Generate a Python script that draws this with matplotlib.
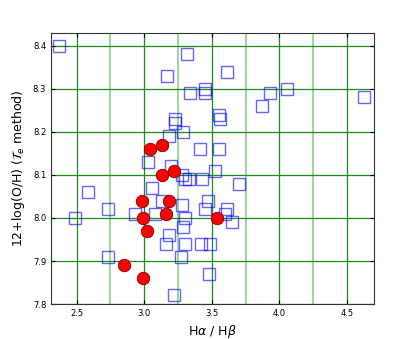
import numpy as np
import matplotlib
matplotlib.use('Agg')
import matplotlib.pyplot as plt
from matplotlib.ticker import MultipleLocator

# open squares (blue)
sq_x = [2.37, 3.32, 3.17, 3.34, 3.45, 3.45, 3.55, 3.56, 3.23, 3.23, 3.29, 3.18,
        3.41, 3.55, 3.03, 3.61, 3.93, 4.06, 3.87, 4.63, 3.20, 3.28, 3.30, 3.33,
        3.43, 3.52, 2.58, 3.06, 3.13, 3.28, 3.47, 3.45, 2.73, 2.93, 3.08, 2.49,
        3.30, 3.29, 3.18, 3.16, 3.30, 3.42, 3.49, 2.73, 3.27, 3.48, 3.22, 3.70,
        3.61, 3.60, 3.65]
sq_y = [8.40, 8.38, 8.33, 8.29, 8.30, 8.29, 8.24, 8.23, 8.23, 8.22, 8.20, 8.19,
        8.16, 8.16, 8.13, 8.34, 8.29, 8.30, 8.26, 8.28, 8.12, 8.10, 8.09, 8.09,
        8.09, 8.11, 8.06, 8.07, 8.04, 8.03, 8.04, 8.02, 8.02, 8.01, 8.01, 8.00,
        8.00, 7.98, 7.96, 7.94, 7.94, 7.94, 7.94, 7.91, 7.91, 7.87, 7.82, 8.08,
        8.02, 8.01, 7.99]

# filled circles (red)
dot_x = [3.04, 3.13, 3.13, 3.22, 2.98, 3.18, 3.16, 2.99, 3.02, 3.54, 2.85, 2.99]
dot_y = [8.16, 8.17, 8.10, 8.11, 8.04, 8.04, 8.01, 8.00, 7.97, 8.00, 7.89, 7.86]

fig = plt.figure(figsize=(4.15, 3.39), dpi=100)
ax = fig.add_axes([0.123, 0.103, 0.778, 0.800])

ax.plot(sq_x, sq_y, 's', ms=8, mfc='none', mec='blue', mew=1.0, alpha=0.6)
ax.plot(dot_x, dot_y, 'o', ms=9, mfc='red', mec='#800000', mew=0.6)

ax.set_xlim(2.31, 4.70)
ax.set_ylim(7.8, 8.43)
ax.xaxis.set_major_locator(MultipleLocator(0.5))
ax.xaxis.set_minor_locator(MultipleLocator(0.25))
ax.yaxis.set_major_locator(MultipleLocator(0.1))
ax.grid(True, which='major', color='#1a8c1a', lw=0.9)
ax.grid(True, which='minor', axis='x', color='green', lw=1.5, alpha=0.35)
ax.set_axisbelow(True)
ax.tick_params(labelsize=6, direction='in', top=True, right=True, length=3)
ax.tick_params(which='minor', length=0)
for s in ax.spines.values():
    s.set_color('#333333')

ax.set_xlabel(r'H$\alpha$ / H$\beta$', fontsize=9)
ax.set_ylabel(r'12+log(O/H) ($\mathcal{T}_e$ method)', fontsize=9)

fig.savefig('out.png', dpi=100)
